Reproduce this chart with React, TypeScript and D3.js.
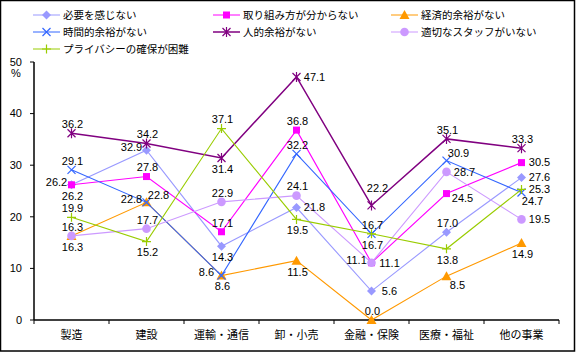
import React from "react";
import * as d3 from "d3";

const categories = ["製造", "建設", "運輸・通信", "卸・小売", "金融・保険", "医療・福祉", "他の事業"];
const seriesNames = [
  "必要を感じない",
  "取り組み方が分からない",
  "経済的余裕がない",
  "時間的余裕がない",
  "人的余裕がない",
  "適切なスタッフがいない",
  "プライバシーの確保が困難",
];
const s1 = [26.2, 32.9, 14.3, 21.8, 5.6, 17.0, 27.6];
const s2 = [26.2, 27.8, 17.1, 36.8, 11.1, 24.5, 30.5];
const s3 = [16.3, 22.8, 8.6, 11.5, 0.0, 8.5, 14.9];
const s4 = [29.1, 22.8, 8.6, 32.2, 16.7, 30.9, 24.7];
const s5 = [36.2, 34.2, 31.4, 47.1, 22.2, 35.1, 33.3];
const s6 = [16.3, 17.7, 22.9, 24.1, 11.1, 28.7, 19.5];
const s7 = [19.9, 15.2, 37.1, 19.5, 16.7, 13.8, 25.3];
const seriesValues = [s1, s2, s3, s4, s5, s6, s7];
const yTicks = [0, 10, 20, 30, 40, 50];

// label placement codes (style, not data)
const labelPos = [
  ["b", "l", "b", "r", "r", "a", "r"],
  ["l", "a", "a", "a", "l", "r2", "r"],
  ["b", "l", "b", "b", "a", "br", "b"],
  ["a", "ar", "l", "a", "a", "ar", "br"],
  ["a", "a", "b", "r", "ar2", "a", "a"],
  ["a", "a", "a", "a", "r", "r", "r"],
  ["a", "b", "a", "b", "b", "b", "r"],
];
const colors = ["#9999FF", "#FF00FF", "#FF9900", "#3366FF", "#800080", "#CC99FF", "#99CC00"];
const markers = ["diamond", "square", "triangle", "x", "asterisk", "circle", "plus"];

const offsets: Record<string, [number, number]> = {
  a: [1, -9],
  b: [1, 11],
  l: [-15, -3],
  r: [18, 0],
  r2: [16, 5],
  ar: [12, -7],
  ar2: [6, -17],
  br: [11, 9],
};

function Marker({ type, x, y, color }: { type: string; x: number; y: number; color: string }) {
  switch (type) {
    case "diamond":
      return <path d={`M${x},${y - 4.5}L${x + 4.5},${y}L${x},${y + 4.5}L${x - 4.5},${y}Z`} fill={color} />;
    case "square":
      return <rect x={x - 3.5} y={y - 3.5} width={7} height={7} fill={color} />;
    case "triangle":
      return <path d={`M${x},${y - 5}L${x + 5},${y + 4}L${x - 5},${y + 4}Z`} fill={color} />;
    case "x":
      return (
        <path d={`M${x - 4},${y - 4}L${x + 4},${y + 4}M${x - 4},${y + 4}L${x + 4},${y - 4}`} stroke={color} strokeWidth={1.2} />
      );
    case "asterisk":
      return (
        <path
          d={`M${x - 4},${y - 4}L${x + 4},${y + 4}M${x - 4},${y + 4}L${x + 4},${y - 4}M${x},${y - 5}L${x},${y + 5}`}
          stroke={color}
          strokeWidth={1.2}
        />
      );
    case "circle":
      return <circle cx={x} cy={y} r={4.3} fill={color} />;
    case "plus":
      return <path d={`M${x - 4.5},${y}L${x + 4.5},${y}M${x},${y - 4.5}L${x},${y + 4.5}`} stroke={color} strokeWidth={1.2} />;
  }
  return null;
}

export default function App() {
  const W = 576;
  const H = 359;
  const x = d3.scaleBand<string>().domain(categories).range([34, 559]).padding(0);
  const y = d3.scaleLinear().domain([0, 50]).range([320, 62]);
  const cx = (c: string) => (x(c) as number) + x.bandwidth() / 2;
  const line = d3
    .line<number>()
    .x((_, i) => cx(categories[i]))
    .y((d) => y(d));
  const font = "'Liberation Sans', Arial, sans-serif";
  const jfont = "'Noto Sans CJK JP', sans-serif";

  const legendCols = [33, 213, 391];
  const legendRows = [15, 32, 49];

  return (
    <svg width={W} height={H} style={{ position: "absolute", left: 0, top: 0, background: "#fff" }}>
      <rect x={0} y={0} width={W} height={H} fill="#fff" />
      <rect x={0.5} y={0.5} width={574} height={350.5} fill="none" stroke="#000" strokeWidth={1.5} />
      {/* legend */}
      {seriesNames.map((n, i) => {
        const lx = legendCols[i % 3];
        const ly = legendRows[Math.floor(i / 3)];
        return (
          <g key={n}>
            <line x1={lx} x2={lx + 27} y1={ly} y2={ly} stroke={colors[i]} strokeWidth={i === 4 ? 1.5 : 1} />
            <Marker type={markers[i]} x={lx + 13.5} y={ly} color={colors[i]} />
            <text x={lx + 30} y={ly} dy="0.36em" fontSize={10.5} fontFamily={jfont} fill="#000">
              {n}
            </text>
          </g>
        );
      })}
      {/* axes */}
      <line x1={34} x2={34} y1={y(50)} y2={y(0)} stroke="#000" strokeWidth={1.5} />
      <line x1={34} x2={559} y1={y(0)} y2={y(0)} stroke="#000" strokeWidth={1.5} />
      {yTicks.map((t) => (
        <g key={t}>
          <line x1={30} x2={34} y1={y(t)} y2={y(t)} stroke="#000" strokeWidth={1} />
          <text x={22} y={y(t)} dy="0.35em" textAnchor="end" fontSize={11} fontFamily={font}>
            {t}
          </text>
        </g>
      ))}
      <text x={16} y={73} dy="0.35em" textAnchor="middle" fontSize={11} fontFamily={font}>
        %
      </text>
      {categories.map((c) => (
        <g key={c}>
          <line x1={(x(c) as number) + x.bandwidth()} x2={(x(c) as number) + x.bandwidth()} y1={y(0)} y2={y(0) + 4} stroke="#000" />
          <text x={cx(c)} y={335} dy="0.36em" textAnchor="middle" fontSize={11} fontFamily={jfont}>
            {c}
          </text>
        </g>
      ))}
      <line x1={34} x2={34} y1={y(0)} y2={y(0) + 4} stroke="#000" />
      {/* series */}
      {seriesValues.map((vals, si) => (
        <g key={si}>
          <path d={line(vals) || ""} fill="none" stroke={colors[si]} strokeWidth={si === 4 ? 1.5 : 1.1} />
          {vals.map((v, i) => (
            <Marker key={i} type={markers[si]} x={cx(categories[i])} y={y(v)} color={colors[si]} />
          ))}
        </g>
      ))}
      {/* labels */}
      {seriesValues.map((vals, si) => (
        <g key={"l" + si}>
          {vals.map((v, i) => {
            const [dx, dy] = offsets[labelPos[si][i]];
            return (
              <text
                key={i}
                x={cx(categories[i]) + dx}
                y={y(v) + dy}
                dy="0.35em"
                textAnchor="middle"
                fontSize={11}
                fontFamily={font}
                fill="#000"
              >
                {v.toFixed(1)}
              </text>
            );
          })}
        </g>
      ))}
    </svg>
  );
}
